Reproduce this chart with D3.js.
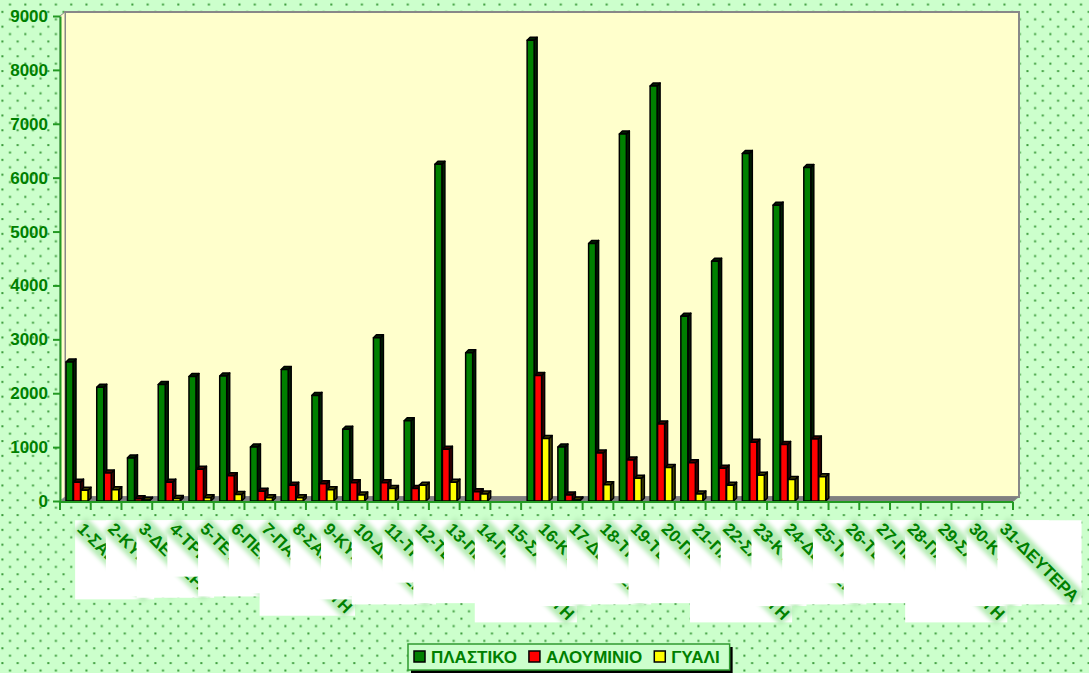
<!DOCTYPE html>
<html>
<head>
<meta charset="utf-8">
<script src="https://cdn.jsdelivr.net/npm/d3@7"></script>
<style>
  body { margin: 0; padding: 0; overflow: hidden; }
  svg { display: block; }
</style>
</head>
<body>
<script>
// ---- data ----
const days = ["1-ΣΑΒΒΑΤΟ","2-ΚΥΡΙΑΚΗ","3-ΔΕΥΤΕΡΑ","4-ΤΡΙΤΗ","5-ΤΕΤΑΡΤΗ","6-ΠΕΜΠΤΗ","7-ΠΑΡΑΣΚΕΥΗ",
  "8-ΣΑΒΒΑΤΟ","9-ΚΥΡΙΑΚΗ","10-ΔΕΥΤΕΡΑ","11-ΤΡΙΤΗ","12-ΤΕΤΑΡΤΗ","13-ΠΕΜΠΤΗ","14-ΠΑΡΑΣΚΕΥΗ",
  "15-ΣΑΒΒΑΤΟ","16-ΚΥΡΙΑΚΗ","17-ΔΕΥΤΕΡΑ","18-ΤΡΙΤΗ","19-ΤΕΤΑΡΤΗ","20-ΠΕΜΠΤΗ","21-ΠΑΡΑΣΚΕΥΗ",
  "22-ΣΑΒΒΑΤΟ","23-ΚΥΡΙΑΚΗ","24-ΔΕΥΤΕΡΑ","25-ΤΡΙΤΗ","26-ΤΕΤΑΡΤΗ","27-ΠΕΜΠΤΗ","28-ΠΑΡΑΣΚΕΥΗ",
  "29-ΣΑΒΒΑΤΟ","30-ΚΥΡΙΑΚΗ","31-ΔΕΥΤΕΡΑ"];

const series = ["ΠΛΑΣΤΙΚΟ", "ΑΛΟΥΜΙΝΙΟ", "ΓΥΑΛΙ"];

const plastic   = [2580, 2110, 800, 2160, 2310, 2320, 1000, 2440, 1960, 1330, 3030, 1490, 6250, 2750, 0,
                   8550, 1000, 4780, 6810, 7700, 3430, 4450, 6450, 5490, 6190, 0, 0, 0, 0, 0, 0];
const aluminium = [350, 520, 40, 350, 590, 470, 180, 290, 320, 340, 340, 230, 960, 170, 0,
                   2330, 110, 890, 760, 1430, 710, 610, 1090, 1050, 1150, 0, 0, 0, 0, 0, 0];
const glass     = [200, 210, 15, 45, 60, 120, 60, 60, 210, 110, 230, 290, 350, 130, 0,
                   1160, 20, 300, 420, 620, 130, 290, 480, 400, 450, 0, 0, 0, 0, 0, 0];

const yTicks = [0, 1000, 2000, 3000, 4000, 5000, 6000, 7000, 8000, 9000];

const values = [plastic, aluminium, glass];
const fills = ["#008000", "#ff0000", "#ffff00"];
const sides = ["#002000", "#400000", "#404000"];

const width = 1089, height = 673;
const green = "#008000";
const axisGreen = "#229922";
const font = "'Liberation Sans', Arial, sans-serif";

const svg = d3.select("body").append("svg")
    .attr("width", width)
    .attr("height", height);

const defs = svg.append("defs");

// dotted light green background
const pat = defs.append("pattern")
    .attr("id", "dots")
    .attr("patternUnits", "userSpaceOnUse")
    .attr("width", 15.3).attr("height", 14.8)
    .attr("x", 2).attr("y", -3);
pat.append("rect").attr("width", 15.3).attr("height", 14.8).attr("fill", "#ccffcc");
[[7, 6.5], [-0.6, -0.9], [14.7, -0.9], [-0.6, 13.9], [14.7, 13.9]].forEach(p => {
  pat.append("rect").attr("x", p[0]).attr("y", p[1]).attr("width", 2).attr("height", 2).attr("fill", "#3a9a3a");
});

defs.append("filter").attr("id", "soft")
    .attr("x", "-20%").attr("y", "-60%").attr("width", "140%").attr("height", "220%")
  .append("feGaussianBlur").attr("stdDeviation", 2.2);

svg.append("rect").attr("width", width).attr("height", height).attr("fill", "url(#dots)");

// ---- scales ----
const x0 = d3.scaleBand().domain(days).range([60, 1013]);
const x1 = d3.scaleBand().domain(series).range([6, 28.5]);
const y = d3.scaleLinear().domain([0, 9000]).range([501, 16]);

const dx = 5, dy = 4;       // depth of the walls
const bdx = 3, bdy = 3;     // depth of the bars
const x0L = x0.range()[0], x0R = x0.range()[1];

// back wall
svg.append("rect")
    .attr("x", x0L + dx).attr("y", y(9000) - dy)
    .attr("width", x0R + 6 - (x0L + dx)).attr("height", y(0) - y(9000))
    .attr("fill", "#ffffcc").attr("stroke", "#888").attr("stroke-width", 2);
// left side wall
svg.append("path")
    .attr("d", `M${x0L},${y(0)}L${x0L},${y(9000)}L${x0L + dx},${y(9000) - dy}L${x0L + dx},${y(0) - dy}Z`)
    .attr("fill", "#ffffcc").attr("stroke", "#888").attr("stroke-width", 1);
// floor
svg.append("path")
    .attr("d", `M${x0L},${y(0) + 1}L${x0R},${y(0) + 1}L${x0R + 6},${y(0) - dy}L${x0L + dx},${y(0) - dy}Z`)
    .attr("fill", "#808080");

// ---- bars ----
const bars = svg.append("g");
days.forEach((d, i) => {
  series.forEach((s, k) => {
    const v = values[k][i];
    if (!v) return;
    const xa = x0(d) + x1(s), w = 7;
    const yt = y(v), yb = y(0);
    const g = bars.append("g").attr("stroke", "#000").attr("stroke-width", 1.5).attr("stroke-linejoin", "round");
    g.append("path")
        .attr("d", `M${xa + w},${yt}L${xa + w + bdx},${yt - bdy}L${xa + w + bdx},${yb - bdy}L${xa + w},${yb}Z`)
        .attr("fill", sides[k]);
    g.append("path")
        .attr("d", `M${xa},${yt}L${xa + bdx},${yt - bdy}L${xa + w + bdx},${yt - bdy}L${xa + w},${yt}Z`)
        .attr("fill", sides[k]);
    g.append("rect")
        .attr("x", xa).attr("y", yt).attr("width", w).attr("height", yb - yt)
        .attr("fill", fills[k]);
  });
});

// ---- y axis ----
const yAxis = svg.append("g")
    .attr("transform", `translate(${x0L},0)`)
    .call(d3.axisLeft(y).tickValues(yTicks).tickFormat(d3.format("d"))
      .tickSize(7).tickPadding(5).tickSizeOuter(0));
yAxis.select(".domain").attr("stroke", axisGreen).attr("stroke-width", 2);
yAxis.selectAll(".tick line").attr("stroke", axisGreen).attr("stroke-width", 2);
yAxis.selectAll(".tick text")
    .attr("fill", green)
    .style("font-family", font)
    .style("font-weight", "bold")
    .style("font-size", "17px");

// ---- x axis ----
const xAxis = svg.append("g").attr("transform", `translate(0,${y(0) + 1})`);
xAxis.append("line").attr("x1", x0L).attr("x2", x0R)
    .attr("stroke", axisGreen).attr("stroke-width", 2);
xAxis.selectAll(".xt").data(days.concat([null])).enter().append("line")
    .attr("x1", d => d === null ? x0R : x0(d))
    .attr("x2", d => d === null ? x0R : x0(d))
    .attr("y1", 0).attr("y2", 8)
    .attr("stroke", axisGreen).attr("stroke-width", 2);

// ---- x labels (each drawn over a white box, later ones covering earlier ones) ----
const labels = svg.append("g");
days.forEach(d => {
  const g = labels.append("g")
      .attr("transform", `translate(${x0(d) + x0.bandwidth() / 2 + 1},${y(0) + 29}) rotate(45)`);
  const t = g.append("text")
      .attr("x", 0).attr("y", 0)
      .attr("fill", green)
      .style("font-family", font)
      .style("font-weight", "bold")
      .style("font-size", "17px")
      .text(d);
  const len = t.node().getComputedTextLength();
  g.insert("rect", "text")
      .attr("x", -2).attr("y", -16).attr("width", len + 4).attr("height", 20)
      .attr("fill", "#b6ecb6").attr("filter", "url(#soft)");
  const bb = g.node().getBoundingClientRect();
  labels.insert("rect", () => g.node())
      .attr("x", bb.left + 3).attr("y", bb.top + 3)
      .attr("width", bb.width - 6).attr("height", bb.height - 6)
      .attr("fill", "#fff");
});

// ---- legend ----
const legend = svg.append("g").attr("transform", "translate(408,644)");
const lShadow = legend.append("rect").attr("x", 3).attr("y", 3).attr("height", 26).attr("fill", "#000");
const lBox = legend.append("rect").attr("x", 0).attr("y", 0).attr("height", 26)
    .attr("fill", "#ccffcc").attr("stroke", "#2f9a2f").attr("stroke-width", 1.5);
let lx = 6;
series.forEach((s, k) => {
  legend.append("rect").attr("x", lx).attr("y", 7).attr("width", 11).attr("height", 11)
      .attr("fill", fills[k]).attr("stroke", "#000").attr("stroke-width", 1.5);
  const t = legend.append("text").attr("x", lx + 17).attr("y", 19)
      .attr("fill", green)
      .style("font-family", font)
      .style("font-weight", "bold")
      .style("font-size", "17px")
      .text(s);
  lx += 17 + t.node().getComputedTextLength() + 12;
});
lShadow.attr("width", lx - 2);
lBox.attr("width", lx - 2);
</script>
</body>
</html>
